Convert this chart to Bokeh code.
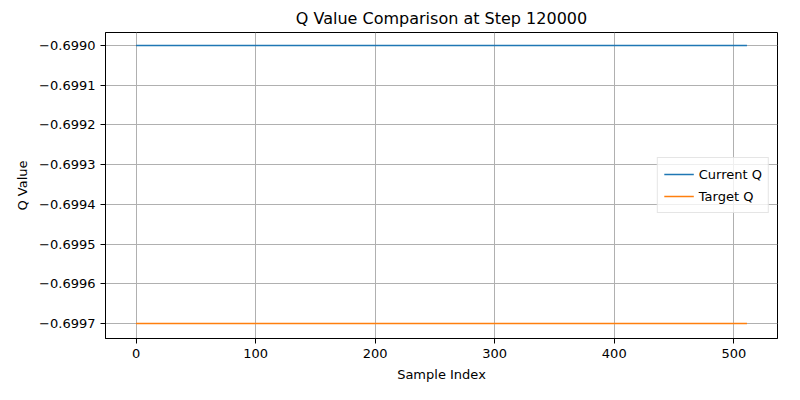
from bokeh.plotting import figure
from bokeh.models import FixedTicker, Range1d, Legend, LegendItem
from bokeh.embed import file_html
from bokeh.resources import INLINE

# data
sample_index = [0, 511]
current_q = [-0.6990, -0.6990]
target_q = [-0.6997, -0.6997]
y_ticks = [-0.6997, -0.6996, -0.6995, -0.6994, -0.6993, -0.6992, -0.6991, -0.6990]
x_ticks = [0, 100, 200, 300, 400, 500]

FONT = "DejaVu Sans"

p = figure(width=784, height=384, output_backend="svg", toolbar_location=None,
           x_range=Range1d(-25.55, 536.55), y_range=Range1d(-0.6997376, -0.6989674),
           min_border_left=105, min_border_right=7, min_border_top=32, min_border_bottom=43,
           title="Q Value Comparison at Step 120000")
p.title.align = "center"
p.title.text_font = FONT
p.title.text_font_size = "16px"
p.title.text_font_style = "normal"
p.title.text_color = "black"

l1 = p.line(sample_index, current_q, line_color="#1f77b4", line_width=1.5)
l2 = p.line(sample_index, target_q, line_color="#ff7f0e", line_width=1.5)

p.xaxis.ticker = FixedTicker(ticks=x_ticks)
p.yaxis.ticker = FixedTicker(ticks=y_ticks)
p.yaxis.major_label_overrides = {t: ("\u2212%.4f" % abs(t)) for t in y_ticks}
p.xaxis.axis_label = "Sample Index"
p.yaxis.axis_label = "Q Value"
for ax in (p.xaxis, p.yaxis):
    ax.axis_label_text_font = FONT
    ax.axis_label_text_font_size = "13px"
    ax.axis_label_text_font_style = "normal"
    ax.axis_label_text_color = "black"
    ax.axis_label_standoff = 6
    ax.major_label_text_font = FONT
    ax.major_label_text_font_size = "13px"
    ax.major_label_text_color = "black"
    ax.minor_tick_line_color = None
    ax.major_tick_out = 5
    ax.major_tick_in = 0
    ax.axis_line_color = "black"
    ax.major_tick_line_color = "black"

p.grid.grid_line_color = "#b0b0b0"
p.grid.grid_line_width = 1
p.outline_line_color = "black"
p.outline_line_alpha = 1

legend = Legend(items=[LegendItem(label="Current Q", renderers=[l1]),
                       LegendItem(label="Target Q", renderers=[l2])],
                location="center_right")
legend.label_text_font = FONT
legend.label_text_font_size = "13px"
legend.label_text_color = "black"
legend.border_line_color = "#cccccc"
legend.border_line_width = 1
legend.background_fill_alpha = 0.8
legend.glyph_width = 30
legend.spacing = 2
legend.padding = 6
legend.margin = 8
p.add_layout(legend)

open("out.html", "w").write(file_html(p, INLINE))
